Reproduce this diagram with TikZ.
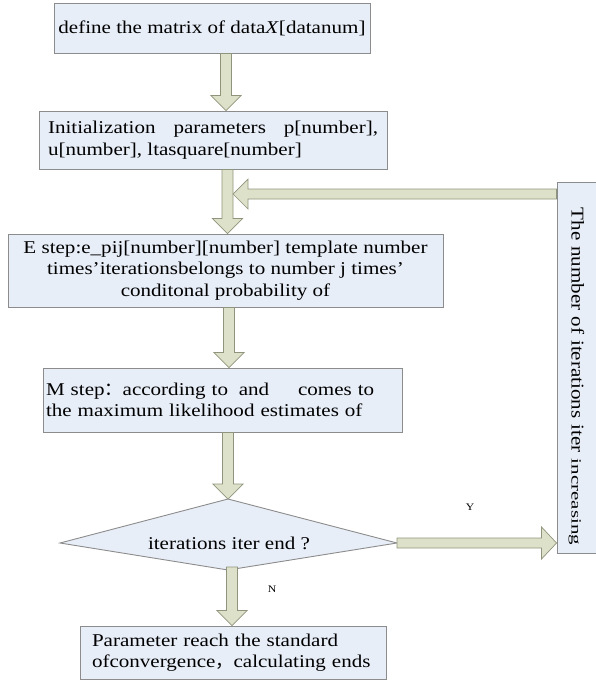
\documentclass[tikz,border=0pt]{standalone}
\usepackage{fontspec}
\setmainfont{Liberation Serif}[FakeStretch=1.17]
\newfontfamily\incfont{Liberation Serif}[FakeStretch=1.5]
\newfontfamily\cjk{Noto Sans CJK SC}
\usetikzlibrary{shapes.geometric,calc}
\definecolor{boxfill}{HTML}{E8EEF8}
\definecolor{boxedge}{HTML}{8C8C8C}
\definecolor{arrfill}{HTML}{DDE1C9}
\definecolor{arredge}{HTML}{8F957C}
\newcommand\vblk[2]{\draw[blk] ($(#1)+(-5.5,0)$) -- ($(#2)+(-5.5,-15)$) -- ($(#2)+(-15,-15)$) -- (#2) -- ($(#2)+(15,-15)$) -- ($(#2)+(5.5,-15)$) -- ($(#1)+(5.5,0)$) -- cycle;}
\newcommand\lblk[2]{\draw[blk] ($(#1)+(0,-5)$) -- ($(#2)+(15,-5)$) -- ($(#2)+(15,-15)$) -- (#2) -- ($(#2)+(15,15)$) -- ($(#2)+(15,5)$) -- ($(#1)+(0,5)$) -- cycle;}
\newcommand\rblk[2]{\draw[blk] ($(#1)+(0,-5)$) -- ($(#2)+(-15,-5)$) -- ($(#2)+(-15,-16)$) -- (#2) -- ($(#2)+(-15,16)$) -- ($(#2)+(-15,5)$) -- ($(#1)+(0,5)$) -- cycle;}
\begin{document}
\begin{tikzpicture}[x=1pt,y=-1pt,
  box/.style={draw=boxedge, fill=boxfill, line width=0.9pt, inner sep=0pt, font=\fontsize{18}{21.5}\selectfont},
  blk/.style={draw=arredge, fill=arrfill, line width=0.7pt},
  lab/.style={font=\fontsize{10}{10}\selectfont, inner sep=0pt}]
\useasboundingbox (0,0) rectangle (596,681);

\node[box, minimum width=316pt, minimum height=50pt] (b1) at (212,28)
  {define the matrix of data\textit{X}[datanum]};
\node[box, minimum width=348pt, minimum height=58pt, text width=330pt, align=justify] (b2) at (213,140)
  {Initialization parameters p[number], u[number], ltasquare[number]};
\node[box, minimum width=435pt, minimum height=73pt, align=center] (b3) at (225.5,270.5)
  {E step:e\_pij[number][number] template number\\times’iterationsbelongs to number j times’\\conditonal probability of};
\node[box, minimum width=359pt, minimum height=64pt, text width=353pt, align=left] (b4) at (222.5,400)
  {M step{\cjk ：}according to\hspace{0.6em}and\hspace{1.6em}comes to\\the maximum likelihood estimates of};

% decision diamond
\coordinate (dn) at (228,499);
\coordinate (dw) at (60,543);
\coordinate (de) at (397,543);
\coordinate (ds) at (228,570);
\draw[box] (dn) -- (de) -- (ds) -- (dw) -- cycle;
\node[font=\fontsize{18}{21.5}\selectfont, inner sep=0pt] (d) at (229,543) {iterations iter end ?};

\node[box, minimum width=306pt, minimum height=53pt, text width=282pt, align=left] (b5) at (233,652.5)
  {Parameter reach the standard\\ofconvergence{\cjk ，}calculating ends};
\node[box, rotate=-90, minimum width=371pt, minimum height=39pt, text width=355pt, align=right] (rb) at (576.5,367.5)
  {The number of iterations iter {\incfont\fontsize{14}{14}\selectfont increasing}};

\node[lab] (ylab) at (470,507) {Y};
\node[lab] (nlab) at (272,589) {N};

\coordinate (c1) at (226,0);
\coordinate (c2) at (227.5,0);
\coordinate (c3) at (229,0);
\coordinate (c4) at (228,0);
\coordinate (c5) at (232,0);
\coordinate (fby) at (0,194);

\coordinate (a1s) at (b1.south -| c1);
\coordinate (a1t) at (b2.north -| c1);
\vblk{a1s}{a1t}
\coordinate (a2s) at (b2.south -| c2);
\coordinate (a2t) at (b3.north -| c2);
\vblk{a2s}{a2t}
\coordinate (a3s) at (b3.south -| c3);
\coordinate (a3t) at (b4.north -| c3);
\vblk{a3s}{a3t}
\coordinate (a4s) at (b4.south -| c4);
\coordinate (a4t) at (dn -| c4);
\vblk{a4s}{a4t}
\coordinate (a5s) at (232,567);
\coordinate (a5t) at (b5.north -| c5);
\vblk{a5s}{a5t}
\coordinate (fbs) at (rb.south |- fby);
\coordinate (fbt) at (233,194);
\lblk{fbs}{fbt}
\coordinate (yt) at (rb.south |- de);
\rblk{de}{yt}
\end{tikzpicture}
\end{document}
